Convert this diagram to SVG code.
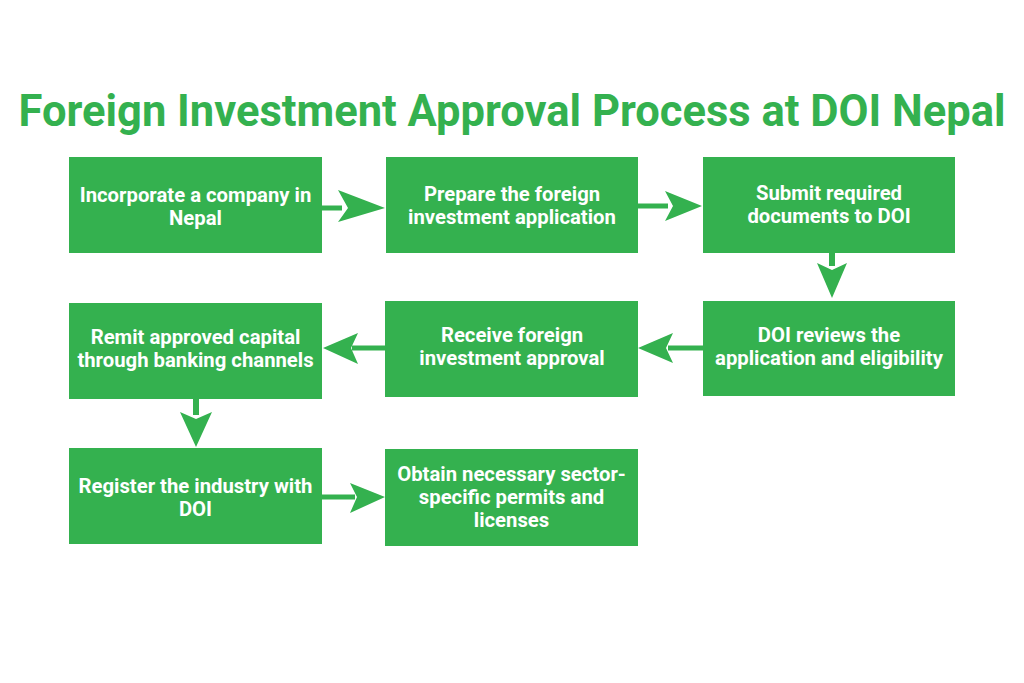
<svg xmlns="http://www.w3.org/2000/svg" width="1024" height="683" viewBox="0 0 1024 683">
<style>
.title{font-family:Roboto,"Liberation Sans",sans-serif;font-weight:700;font-size:43.5px;fill:#34B14F;}
.box{fill:#34B14F;}
.lbl{font-family:Roboto,"Liberation Sans",sans-serif;font-weight:700;font-size:20.3px;fill:#ffffff;text-anchor:middle;}
.conn{fill:#34B14F;}
</style>
<rect width="1024" height="683" fill="#ffffff"/>
<text class="title" x="512" y="126" text-anchor="middle">Foreign Investment Approval Process at DOI Nepal</text>
<g id="connectors">
  <rect class="conn" x="322" y="205.5" width="20" height="5"/>
  <polygon class="conn" points="338,190 385,208 338,222 348,208"/>
  <rect class="conn" x="638" y="203.5" width="30" height="5"/>
  <polygon class="conn" points="665,191 702,206 665,221 673,206"/>
  <rect class="conn" x="829" y="253" width="6" height="13"/>
  <polygon class="conn" points="817,263 832,298 847,263 832,270"/>
  <rect class="conn" x="668" y="345.5" width="35" height="5"/>
  <polygon class="conn" points="673,333 638,348 673,363 666,348"/>
  <rect class="conn" x="352" y="345.5" width="33" height="5"/>
  <polygon class="conn" points="358,333 323,348 358,364 351,348"/>
  <rect class="conn" x="193" y="399" width="6" height="16"/>
  <polygon class="conn" points="180,412 196,447 212,412 196,419"/>
  <rect class="conn" x="322" y="494.5" width="33" height="5"/>
  <polygon class="conn" points="350,483 385,497 350,513 357,497"/>
</g>
<g id="n1"><rect class="box" x="69" y="157" width="253" height="96"/>
<text class="lbl" x="195.5" y="202">Incorporate a company in</text><text class="lbl" x="195.5" y="225">Nepal</text></g>
<g id="n2"><rect class="box" x="386" y="157" width="252" height="96"/>
<text class="lbl" x="512" y="201">Prepare the foreign</text><text class="lbl" x="512" y="224">investment application</text></g>
<g id="n3"><rect class="box" x="703" y="157" width="252" height="96"/>
<text class="lbl" x="829" y="200">Submit required</text><text class="lbl" x="829" y="223">documents to DOI</text></g>
<g id="n4"><rect class="box" x="703" y="301" width="252" height="95"/>
<text class="lbl" x="829" y="342">DOI reviews the</text><text class="lbl" x="829" y="365">application and eligibility</text></g>
<g id="n5"><rect class="box" x="385" y="301" width="253" height="96"/>
<text class="lbl" x="512" y="342">Receive foreign</text><text class="lbl" x="512" y="365">investment approval</text></g>
<g id="n6"><rect class="box" x="69" y="303" width="253" height="96"/>
<text class="lbl" x="195.5" y="344">Remit approved capital</text><text class="lbl" x="195.5" y="367">through banking channels</text></g>
<g id="n7"><rect class="box" x="69" y="448" width="253" height="96"/>
<text class="lbl" x="195.5" y="493">Register the industry with</text><text class="lbl" x="195.5" y="516">DOI</text></g>
<g id="n8"><rect class="box" x="385" y="449" width="253" height="97"/>
<text class="lbl" x="511.5" y="481">Obtain necessary sector-</text><text class="lbl" x="511.5" y="504">specific permits and</text><text class="lbl" x="511.5" y="527">licenses</text></g>
</svg>
